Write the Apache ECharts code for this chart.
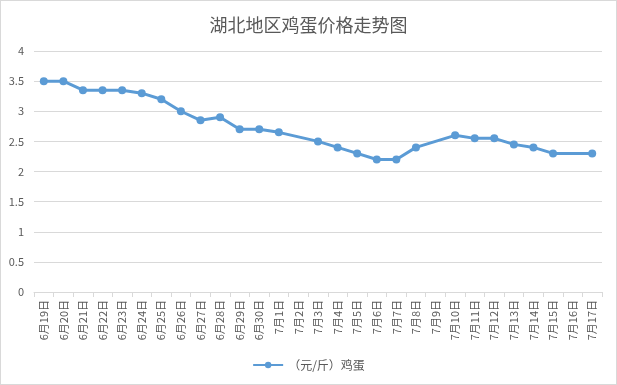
<!DOCTYPE html>
<html><head><meta charset="utf-8">
<script src="https://cdn.jsdelivr.net/npm/echarts@6/dist/echarts.min.js"></script>
<style>html,body{margin:0;padding:0;background:#fff}#c{width:615px;height:383px;border:1px solid #d9d9d9}</style>
</head><body><div id="c"></div>
<script>
const categories = ['6月19日','6月20日','6月21日','6月22日','6月23日','6月24日','6月25日','6月26日','6月27日','6月28日','6月29日','6月30日','7月1日','7月2日','7月3日','7月4日','7月5日','7月6日','7月7日','7月8日','7月9日','7月10日','7月11日','7月12日','7月13日','7月14日','7月15日','7月16日','7月17日'];
const eggPrice = [3.5,3.5,3.35,3.35,3.35,3.3,3.2,3.0,2.85,2.9,2.7,2.7,2.65,null,2.5,2.4,2.3,2.2,2.2,2.4,null,2.6,2.55,2.55,2.45,2.4,2.3,null,2.3];
const seriesName = '（元/斤）鸡蛋';
const chart = echarts.init(document.getElementById('c'));
const font = '"Microsoft YaHei","Noto Sans CJK SC",sans-serif';
chart.setOption({
  animation:false,
  title:{text:'湖北地区鸡蛋价格走势图',left:'center',top:10,textStyle:{fontFamily:font,fontSize:18,fontWeight:'normal',color:'#595959'}},
  legend:{bottom:8,left:'center',itemWidth:30,itemHeight:8,textStyle:{fontFamily:font,fontSize:12,color:'#595959'},data:[seriesName]},
  grid:{left:33,right:14,top:50,bottom:92},
  xAxis:{type:'category',data:categories,boundaryGap:true,
    axisLine:{lineStyle:{color:'#d9d9d9'}},
    axisTick:{show:true,alignWithLabel:false,length:5,lineStyle:{color:'#d9d9d9'}},
    axisLabel:{rotate:90,interval:0,color:'#595959',fontSize:11,fontFamily:font,margin:8}},
  yAxis:{type:'value',min:0,max:4,interval:0.5,
    axisLine:{show:false},axisTick:{show:false},
    splitLine:{lineStyle:{color:'#d9d9d9'}},
    axisLabel:{color:'#595959',fontSize:11,fontFamily:font,margin:10}},
  series:[{name:seriesName,type:'line',data:eggPrice,connectNulls:true,
    symbol:'circle',symbolSize:8,
    lineStyle:{color:'#5B9BD5',width:3},itemStyle:{color:'#5B9BD5'}}]
});
</script></body></html>
